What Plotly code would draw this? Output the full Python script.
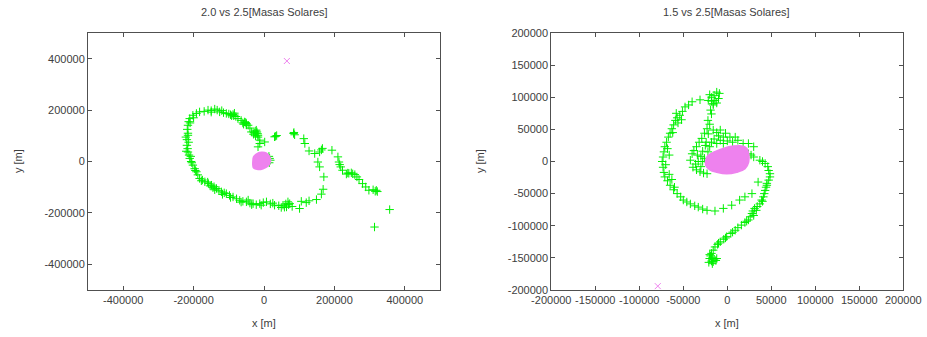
import plotly.graph_objects as go

# ---------------- data: left panel (2.0 vs 2.5) ----------------
left_loop = [
    (-17000, 57000), (-12000, 70000), (-12000, 83000), (-17000, 95000), (-17000, 102000),
    (-22000, 110000), (-22000, 122000), (-28000, 112000), (-36000, 115000), (-40000, 130000),
    (-45000, 141000), (-50000, 148000), (-55000, 154000), (-60000, 150000), (-65000, 160000),
    (-74000, 167000), (-80000, 175000), (-88000, 183000), (-92000, 178000), (-100000, 185000),
    (-107000, 187000), (-115000, 190000), (-126000, 193000), (-133000, 200000), (-140000, 204000),
    (-150000, 198000), (-159000, 200000), (-170000, 195000), (-183000, 193000), (-192000, 187000),
    (-202000, 180000), (-211000, 167000), (-214000, 155000), (-216000, 141000), (-218000, 125000),
    (-216000, 110000), (-216000, 102000), (-219000, 85000), (-219000, 63000), (-217000, 50000),
    (-216000, 37000), (-213000, 25000), (-211000, 12000), (-207000, 0), (-202000, -14000),
    (-197000, -28000), (-192000, -40000), (-188000, -52000), (-183000, -66000), (-175000, -72000),
    (-168000, -79000), (-158000, -86000), (-149000, -92000), (-142000, -98000), (-135000, -105000),
    (-128000, -112000), (-121000, -118000), (-113000, -122000), (-107000, -125000), (-98000, -132000),
    (-88000, -138000), (-78000, -145000), (-69000, -151000), (-60000, -155000), (-50000, -157000),
    (-40000, -162000), (-31000, -164000), (-22000, -168000), (-12000, -164000), (-2000, -160000),
    (7000, -157000), (18000, -165000), (30000, -170000), (42000, -172000), (54000, -170000),
    (62000, -165000), (68000, -157000), (73000, -164000), (64000, -177000), (49000, -179000),
    (80000, -175000), (101000, -183000), (106000, -155000), (120000, -160000), (128000, -153000),
    (149000, -148000), (163000, -127000), (168000, -108000), (170000, -60000), (158000, -21000),
    (153000, -2000),
]
left_dense = [
    (-20000, 115000), (-25000, 118000), (-18000, 108000), (-30000, 106000), (-24000, 100000),
    (-52000, 152000), (-58000, 145000), (-50000, 142000), (-86000, 178000), (-84000, 188000),
    (-95000, 182000), (-210000, 150000), (-222000, 95000), (-214000, 75000), (-221000, 40000),
    (-208000, 20000), (-205000, -5000), (-178000, -75000), (-153000, -95000), (-145000, -102000),
    (-160000, -80000), (-118000, -128000), (-95000, -140000), (-65000, -158000), (-45000, -150000),
    (-35000, -168000), (-8000, -170000), (25000, -162000), (58000, -178000), (70000, -168000),
    (-150000, 192000), (-120000, 198000), (-200000, 170000), (-195000, -35000), (-140000, -110000),
]
left_clusters = [
    (33000, 98000), (36000, 101000), (84000, 109000), (87000, 104000), (113000, 89000),
    (116000, 70000), (128000, 41000), (144000, 31000), (158000, 37000), (166000, 51000),
    (163000, 45000), (193000, 44000), (16000, 12000), (14000, 20000), (18000, 5000),
    (15000, -5000), (2000, 76000), (85000, 113000), (30000, 96000),
]
left_arm = [
    (210000, 18000), (213000, -2000), (218000, -21000), (223000, -34000), (234000, -49000),
    (241000, -46000), (248000, -44000), (258000, -51000), (264000, -60000), (270000, -70000),
    (280000, -86000), (289000, -99000), (298000, -112000), (310000, -110000), (319000, -112000),
    (322000, -117000), (357000, -187000), (314000, -255000), (215000, -12000), (238000, -45000),
    (252000, -48000), (316000, -116000),
]
left_blob = [
    (-31000, -1500), (-29000, 18000), (-21600, 28000), (-7400, 35000), (6800, 32000),
    (16000, 18000), (18000, 2000), (11000, -17000), (-2800, -27000), (-17000, -30000),
    (-29000, -25000), (-31000, -14000),
]
left_x_mark = [(65000, 391000)]

# ---------------- data: right panel (1.5 vs 2.5) ----------------
right_outer = [
    (-12000, 108000), (-9000, 106000), (-15000, 103000), (-17700, 100000), (-21600, 95000),
    (-14000, 95000), (-12000, 91000), (-16000, 88000), (-31000, 96000), (-40000, 93000),
    (-44000, 88000), (-48000, 85000), (-51000, 78000), (-54000, 72000), (-57000, 68000),
    (-59000, 64000), (-61000, 57000), (-63000, 51000), (-65000, 44000), (-67000, 38000),
    (-69000, 30000), (-71000, 23000), (-72000, 15000), (-73000, 7000), (-74000, 0),
    (-73000, -9000), (-72000, -17000), (-71000, -24000), (-68000, -30000), (-65000, -37000),
    (-61000, -44000), (-57000, -50000), (-53000, -55000), (-50000, -60000), (-46000, -63000),
    (-42000, -66000), (-37000, -69000), (-33000, -71000), (-28000, -74000), (-23000, -76000),
    (-14000, -77000), (-4500, -73000), (5000, -68000), (14000, -60000), (20000, -55000),
    (28000, -50000), (35000, -32000), (-63000, -28000), (-66000, 10000), (-60000, -40000),
    (-56000, 60000), (-62000, 45000), (-68000, 20000), (-70000, -5000), (-66000, -20000),
    (-58000, 75000), (-20000, 104000), (-10000, 98000), (-18000, 94000), (-52000, 65000),
]
right_inner = [
    (-16000, 90000), (-18000, 74000), (-22000, 64000), (-23000, 51000), (-26000, 44000),
    (-29000, 36000), (-32000, 30000), (-35000, 23000), (-38000, 17000), (-40000, 12000),
    (-42000, 2000), (-39000, -9000), (-35000, -13000), (-31000, -16000), (-27000, -18000),
    (-23000, -19000), (-30000, 8000), (-33000, 0), (-28000, 16000), (-25000, 25000),
    (-21600, 43000), (-16000, 49000), (-8000, 49000), (-4500, 38000), (3000, 38000),
    (9000, 38000), (-12000, 28000), (-4500, 28000), (-20000, 23000), (18000, 28000),
    (24000, 28000), (30000, 23000), (-26000, 5000), (-36000, -4000), (-15000, 35000),
    (0, 32000), (-10000, 40000), (-19000, 80000), (-20000, 58000), (-24000, 30000),
    (-34000, 10000), (-30000, -8000), (-22000, 15000), (-18000, 30000), (-8000, 33000),
    (6000, 30000), (12000, 33000), (-2000, 44000), (-12000, 45000), (-28000, 0),
]
right_arm = [
    (24000, 12000), (30000, 7000), (37000, 2000), (43000, -3000), (46000, -8000),
    (47000, -14000), (48500, -19000), (48500, -24000), (47000, -29000), (45000, -34000),
    (44000, -40000), (43000, -45000), (42000, -50000), (41000, -55000), (39000, -60000),
    (37000, -66000), (34000, -70000), (31000, -73000), (29000, -77000), (28000, -81000),
    (26000, -86000), (24000, -91000), (20000, -95000), (16000, -99000), (12000, -103000),
    (9000, -107000), (4000, -112000), (-700, -117000), (-4000, -121000), (-8000, -125000),
    (-11000, -129000), (-14000, -133000), (-16000, -138000), (-18000, -143000), (-19000, -147000),
    (-20000, -151000), (-18000, -155000), (-16000, -156000), (-13000, -154000), (-12000, -151000),
    (-17000, -150000), (27000, 10000), (40000, 0), (45000, -37000), (40000, -62000),
    (30000, -84000), (22000, -93000), (6000, -110000), (-2000, -119000), (-10000, -127000),
    (-20000, -145000), (-15000, -152000), (-21000, -157000), (-17000, -159000), (33000, -76000),
]
right_blob = [
    (-24200, 1900), (-21600, 9600), (-14000, 14800), (-4500, 20000), (6800, 23600),
    (18000, 23600), (22000, 20000), (24000, 12300), (24000, -800), (20000, -11000),
    (10700, -16300), (-700, -18800), (-12000, -16300), (-19700, -12600), (-24200, -5900),
]
right_x_mark = [(-79000, -194000)]

titles = ["2.0 vs 2.5[Masas Solares]", "1.5 vs 2.5[Masas Solares]"]
left_ticks = [-400000, -200000, 0, 200000, 400000]
right_ticks = [-200000, -150000, -100000, -50000, 0, 50000, 100000, 150000, 200000]
left_tick_text = ["-400000", "-200000", "0", "200000", "400000"]
right_tick_text = ["-200000", "-150000", "-100000", "-50000", "0", "50000", "100000",
                   "150000", "200000"]

GREEN = "#00f000"
VIOLET = "#ee82ee"


def xs(pts):
    return [p[0] for p in pts]


def ys(pts):
    return [p[1] for p in pts]


fig = go.Figure()


def add_panel(green_sets, blob, xmark, xa, ya):
    pts = [p for s in green_sets for p in s]
    fig.add_trace(go.Scatter(
        x=xs(pts), y=ys(pts), mode="markers", xaxis=xa, yaxis=ya,
        marker=dict(symbol="cross-thin", size=6, color=GREEN,
                    line=dict(color=GREEN, width=1)),
        showlegend=False, hoverinfo="skip"))
    fig.add_trace(go.Scatter(
        x=xs(blob) + [blob[0][0]], y=ys(blob) + [blob[0][1]], mode="lines",
        fill="toself", fillcolor=VIOLET, line=dict(color=VIOLET, width=2,
                                                     shape="spline"),
        xaxis=xa, yaxis=ya, showlegend=False, hoverinfo="skip"))
    fig.add_trace(go.Scatter(
        x=xs(xmark), y=ys(xmark), mode="markers", xaxis=xa, yaxis=ya,
        marker=dict(symbol="x-thin", size=6, color=VIOLET,
                    line=dict(color=VIOLET, width=1)),
        showlegend=False, hoverinfo="skip"))


add_panel([left_loop, left_dense, left_clusters, left_arm], left_blob, left_x_mark, "x", "y")
add_panel([right_outer, right_inner, right_arm], right_blob, right_x_mark, "x2", "y2")

W, H = 927, 337
ydom = [(337 - 290) / H, (337 - 33) / H]
font = dict(family="Liberation Sans, Arial, sans-serif", size=11, color="#404040")
axis_common = dict(showgrid=False, zeroline=False, showline=True, linecolor="#505050",
                   linewidth=1, mirror="ticks", ticks="inside", ticklen=4,
                   tickcolor="#505050", tickfont=font, automargin=False)

fig.update_layout(
    width=W, height=H, margin=dict(l=0, r=0, t=0, b=0),
    paper_bgcolor="white", plot_bgcolor="white", font=font,
    xaxis=dict(domain=[88 / W, 440 / W], range=[-500000, 500000], tickvals=left_ticks,
               ticktext=left_tick_text, anchor="y", **axis_common),
    yaxis=dict(domain=ydom, range=[-500000, 500000], tickvals=left_ticks,
               ticktext=left_tick_text, anchor="x", **axis_common),
    xaxis2=dict(domain=[551.3 / W, 903.3 / W], range=[-200000, 200000], tickvals=right_ticks,
                ticktext=right_tick_text, anchor="y2", **axis_common),
    yaxis2=dict(domain=ydom, range=[-200000, 200000], tickvals=right_ticks,
                ticktext=right_tick_text, anchor="x2", **axis_common),
)

ann = [
    dict(text=titles[0], x=264 / W, y=1 - 12 / H),
    dict(text=titles[1], x=726 / W, y=1 - 12 / H),
    dict(text="x [m]", x=264 / W, y=1 - 323 / H),
    dict(text="x [m]", x=727 / W, y=1 - 323 / H),
    dict(text="y [m]", x=18 / W, y=1 - 161 / H, textangle=-90),
    dict(text="y [m]", x=480 / W, y=1 - 161 / H, textangle=-90),
]
for a in ann:
    fig.add_annotation(xref="paper", yref="paper", showarrow=False, xanchor="center",
                       yanchor="middle", font=font, **a)

fig.write_html("out.html", config={"displayModeBar": False},
               post_script="document.body.style.margin='0';")
